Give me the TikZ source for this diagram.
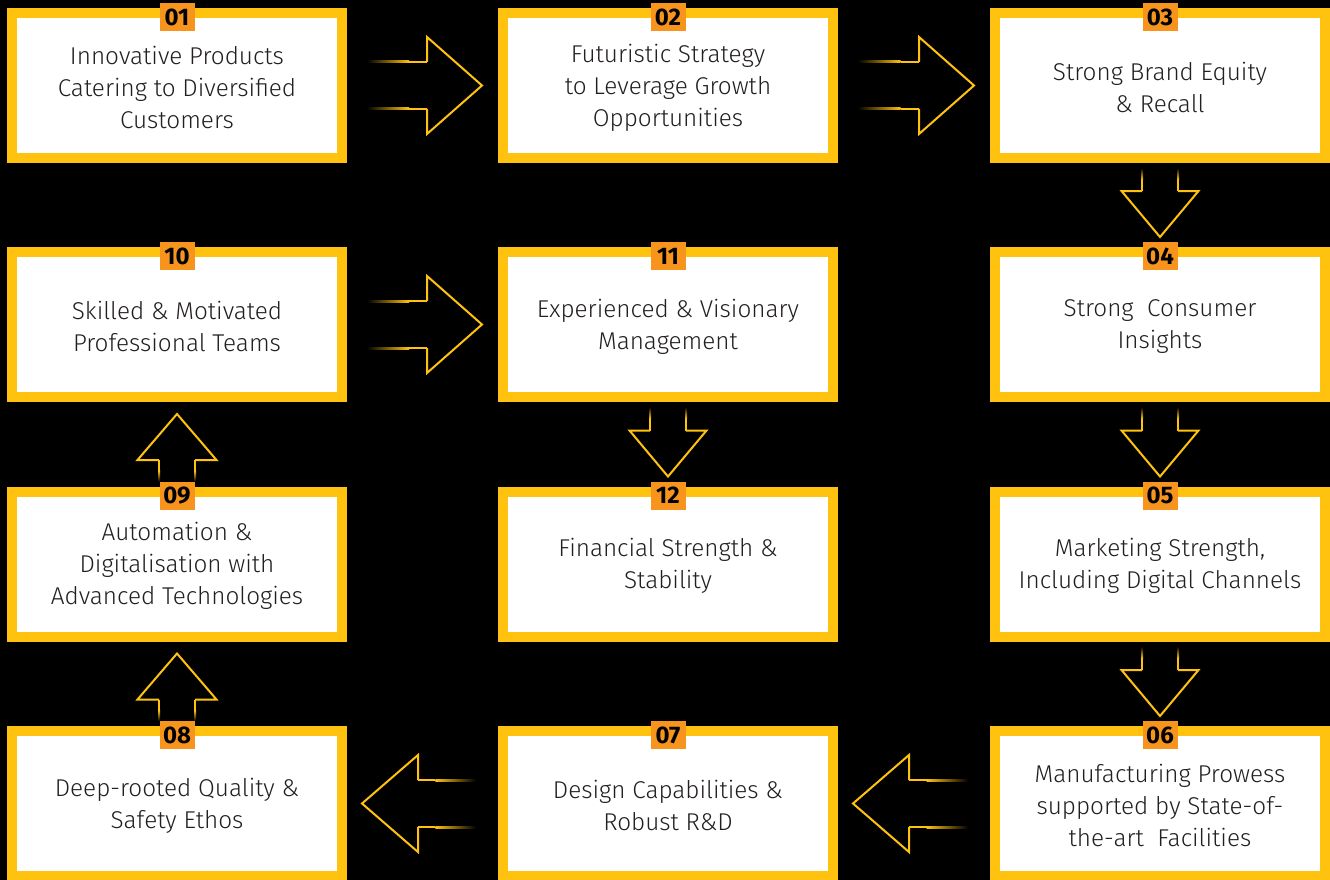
\documentclass[tikz,border=0pt]{standalone}
\usepackage{fontspec}
\IfFontExistsTF{Fira Sans Light}
  {\setmainfont{Fira Sans Light}[BoldFont={Fira Sans Bold}]}
  {\setmainfont{Fira Sans}}
\usetikzlibrary{calc}
\definecolor{ay}{HTML}{FFC20E}
\definecolor{labor}{HTML}{F7941D}
\definecolor{txt}{HTML}{231F20}
\tikzset{
  box/.style={draw=ay, line width=10, fill=white, minimum width=330, minimum height=145,
    inner sep=0},
  boxtext/.style={inner sep=0, align=center, text=txt, font=\fontsize{24.3}{32}\selectfont},
  numlab/.style={fill=labor, minimum width=35, minimum height=28, inner sep=0,
    text=black, font=\fontsize{24}{24}\selectfont\bfseries, anchor=north},
  head/.style={draw=ay, line width=2, line join=miter},
}
% right-pointing block arrow from #1 to #2
\newcommand\RArrow[2]{%
  \coordinate (t) at ($(#1.east)+(20,0)$);
  \coordinate (p) at ($(#2.west)+(-16,0)$);
  \coordinate (hb) at ($(p)+(-55,0)$);
  \coordinate (fm) at ($(t)!0.7!(hb)$);
  \shade[left color=black, right color=ay] ($(t)+(0,-24.5)$) rectangle ($(fm)+(0,-22.5)$);
  \shade[left color=black, right color=ay] ($(t)+(0,24.5)$) rectangle ($(fm)+(0,22.5)$);
  \fill[ay] ($(fm)+(0,-24.5)$) rectangle ($(hb)+(0,-22.5)$);
  \fill[ay] ($(fm)+(0,24.5)$) rectangle ($(hb)+(0,22.5)$);
  \draw[head] ($(hb)+(0,-23.5)$) -- ($(hb)+(0,-48.5)$) -- (p) -- ($(hb)+(0,48.5)$) -- ($(hb)+(0,23.5)$);
}
% left-pointing block arrow from #1 to #2
\newcommand\LArrow[2]{%
  \coordinate (t) at ($(#1.west)+(-22,0)$);
  \coordinate (p) at ($(#2.east)+(15,0)$);
  \coordinate (hb) at ($(p)+(56,0)$);
  \coordinate (fm) at ($(t)!0.7!(hb)$);
  \shade[right color=black, left color=ay] ($(t)+(0,-24.5)$) rectangle ($(fm)+(0,-22.5)$);
  \shade[right color=black, left color=ay] ($(t)+(0,24.5)$) rectangle ($(fm)+(0,22.5)$);
  \fill[ay] ($(fm)+(0,-24.5)$) rectangle ($(hb)+(0,-22.5)$);
  \fill[ay] ($(fm)+(0,24.5)$) rectangle ($(hb)+(0,22.5)$);
  \draw[head] ($(hb)+(0,-23.5)$) -- ($(hb)+(0,-48.5)$) -- (p) -- ($(hb)+(0,48.5)$) -- ($(hb)+(0,23.5)$);
}
% down-pointing block arrow from #1 to #2
\newcommand\DArrow[2]{%
  \coordinate (t) at ($(#1.south)+(0,5)$);
  \coordinate (p) at ($(#2.north)+(0,-10)$);
  \coordinate (hb) at ($(p)+(0,-46)$);
  \coordinate (fm) at ($(t)!0.5!(hb)$);
  \shade[top color=black, bottom color=ay] ($(t)+(-19,0)$) rectangle ($(fm)+(-17,0)$);
  \shade[top color=black, bottom color=ay] ($(t)+(19,0)$) rectangle ($(fm)+(17,0)$);
  \fill[ay] ($(fm)+(-19,0)$) rectangle ($(hb)+(-17,0)$);
  \fill[ay] ($(fm)+(19,0)$) rectangle ($(hb)+(17,0)$);
  \draw[head] ($(hb)+(-18,0)$) -- ($(hb)+(-38.5,0)$) -- (p) -- ($(hb)+(38.5,0)$) -- ($(hb)+(18,0)$);
}
% up-pointing block arrow from #1 to #2
\newcommand\UArrow[2]{%
  \coordinate (t) at ($(#1.north)+(0,-5)$);
  \coordinate (p) at ($(#2.south)+(0,12)$);
  \coordinate (hb) at ($(p)+(0,46)$);
  \coordinate (fm) at ($(t)!0.5!(hb)$);
  \shade[bottom color=black, top color=ay] ($(t)+(-19,0)$) rectangle ($(fm)+(-17,0)$);
  \shade[bottom color=black, top color=ay] ($(t)+(19,0)$) rectangle ($(fm)+(17,0)$);
  \fill[ay] ($(fm)+(-19,0)$) rectangle ($(hb)+(-17,0)$);
  \fill[ay] ($(fm)+(19,0)$) rectangle ($(hb)+(17,0)$);
  \draw[head] ($(hb)+(-18,0)$) -- ($(hb)+(-39.5,0)$) -- (p) -- ($(hb)+(39.5,0)$) -- ($(hb)+(18,0)$);
}
\begin{document}
\begin{tikzpicture}[x=1pt, y=-1pt]
\fill[black] (0,0) rectangle (1330,880);
\useasboundingbox (0,0) rectangle (1330,880);

% boxes
\foreach \b/\x/\y in {b1/177/85.5, b2/668/85.5, b3/1160/85.5,
                      b10/177/324.5, b11/668/324.5, b4/1160/324.5,
                      b9/177/564, b12/668/564, b5/1160/564,
                      b8/177/803.5, b7/668/803.5, b6/1160/803.5}
  \node[box] (\b) at (\x,\y) {};

% box texts
\node[boxtext] (t1)  at ($(b1)+(0,2)$)  {Innovative Products\\Catering to Diversified\\Customers};
\node[boxtext] (t2)  at ($(b2)+(0,2)$)  {Futuristic Strategy\\to Leverage Growth\\Opportunities};
\node[boxtext] (t3)  at ($(b3)+(0,2)$)  {Strong Brand Equity\\\& Recall};
\node[boxtext] (t10) at ($(b10)+(0,2)$) {Skilled \& Motivated\\Professional Teams};
\node[boxtext] (t11) at ($(b11)+(0,2)$) {Experienced \& Visionary\\Management};
\node[boxtext] (t4)  at ($(b4)+(0,2)$)  {Strong\ \ Consumer\\Insights};
\node[boxtext] (t9)  at ($(b9)+(0,2)$)  {Automation \&\\Digitalisation with\\Advanced Technologies};
\node[boxtext] (t12) at ($(b12)+(0,2)$) {Financial Strength \&\\Stability};
\node[boxtext] (t5)  at ($(b5)+(0,2)$)  {Marketing Strength,\\Including Digital Channels};
\node[boxtext] (t8)  at ($(b8)+(0,2)$)  {Deep-rooted Quality \&\\Safety Ethos};
\node[boxtext] (t7)  at ($(b7)+(0,2)$)  {Design Capabilities \&\\Robust R\&D};
\node[boxtext] (t6)  at ($(b6)+(0,2)$)  {Manufacturing Prowess\\supported by State-of-\\the-art\ \ Facilities};

% arrows
\RArrow{b1}{b2}
\RArrow{b2}{b3}
\DArrow{b3}{b4}
\DArrow{b4}{b5}
\DArrow{b5}{b6}
\LArrow{b6}{b7}
\LArrow{b7}{b8}
\UArrow{b8}{b9}
\UArrow{b9}{b10}
\RArrow{b10}{b11}
\DArrow{b11}{b12}

% number labels
\foreach \b/\n in {b1/01,b2/02,b3/03,b4/04,b5/05,b6/06,b7/07,b8/08,b9/09,b10/10,b11/11,b12/12}
  \node[numlab] (l\n) at ($(\b.north)+(0,-5)$) {\n};
\end{tikzpicture}
\end{document}
